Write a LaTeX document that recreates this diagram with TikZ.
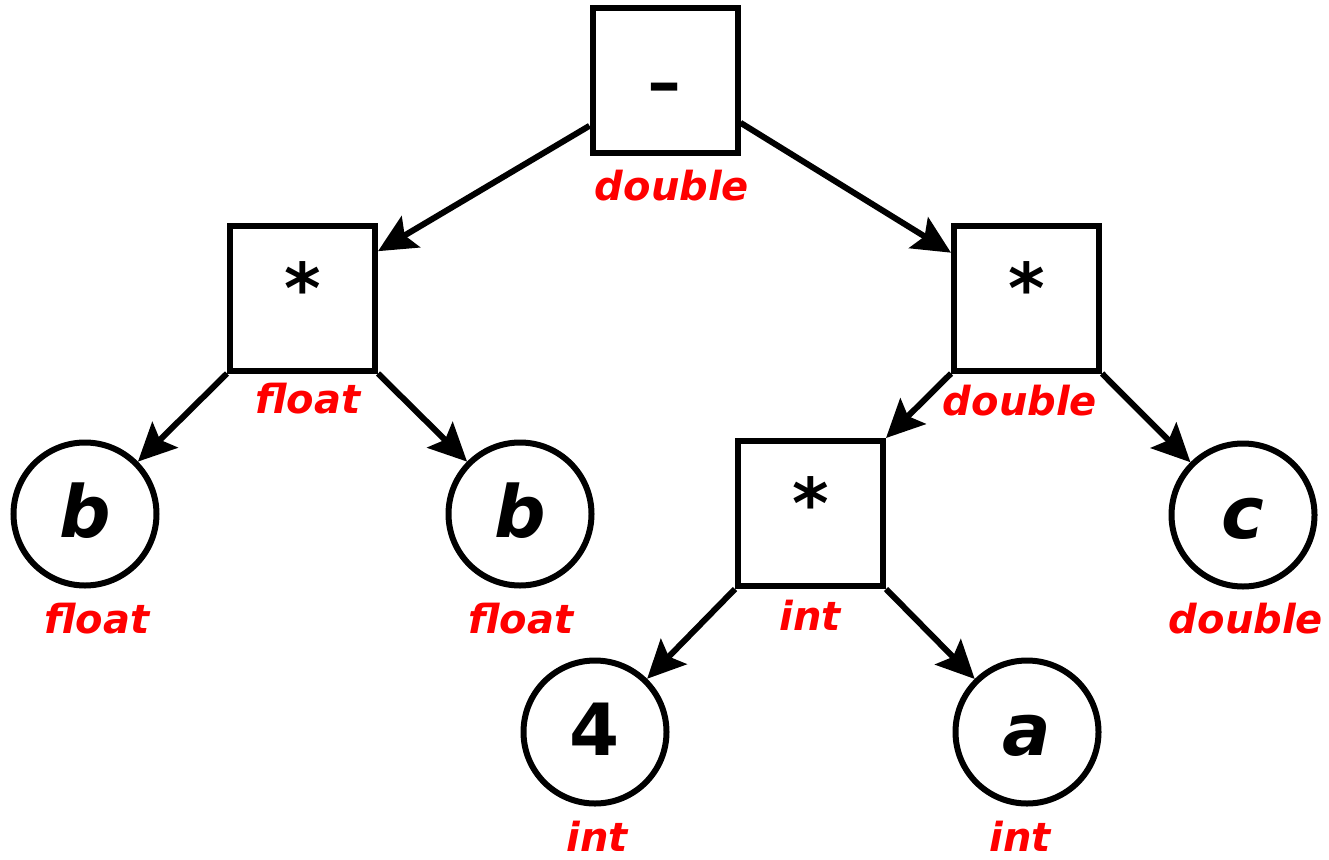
\documentclass[tikz,border=0pt]{standalone}
\usepackage{fontspec}
\setmainfont{DejaVu Sans}
\usetikzlibrary{arrows.meta,calc}
\tikzset{
  op/.style={draw, line width=6pt, minimum size=145pt, inner sep=0pt,
    text depth=10pt, text height=#1,
    font=\fontsize{70}{80}\selectfont\bfseries},
  leaf/.style={circle, draw, line width=6pt, minimum size=143pt, inner sep=0pt,
    text height=56pt, text depth=10pt,
    font=\fontsize{72}{82}\selectfont\bfseries\itshape},
  typ/.style={anchor=base, inner sep=0pt, text=red, text depth=0pt,
    font=\fontsize{40}{48}\selectfont\bfseries\itshape},
  edge/.style={line width=6pt, -{Stealth[length=38pt, width=36pt, inset=7pt]}}
}
\begin{document}
\begin{tikzpicture}[x=1pt, y=-1pt]
\useasboundingbox (0,0) rectangle (1329,859);

% operator boxes
\node[op=78pt, font=\fontsize{100}{110}\selectfont] (root) at (665,80.5) {-};
\node[op=40pt] (lb) at (302.5,298) {*};
\node[op=40pt] (rb) at (1026.5,298) {*};
\node[op=40pt] (mb) at (810.5,513.5) {*};

% operand circles
\node[leaf] (bl) at (85,514) {b};
\node[leaf] (br) at (520,514) {b};
\node[leaf] (cc) at (1243,515) {c};
\node[leaf, font=\fontsize{72}{82}\selectfont\bfseries] (c4) at (595,732) {4};
\node[leaf] (ca) at (1027,732) {a};

% type annotations
\node[typ] (troot) at (672,200) {double};
\node[typ] (tlb) at (308,413) {float};
\node[typ] (trb) at (1020,415) {double};
\node[typ] (tmb) at (810,630) {int};
\node[typ] (tbl) at (97,633) {float};
\node[typ] (tbr) at (521,633) {float};
\node[typ] (tcc) at (1246,633) {double};
\node[typ] (tc4) at (597,851) {int};
\node[typ] (tca) at (1020,851) {int};

% connectors
\draw[edge] ($(root.south west)!0.2!(root.north west)$) -- ($(lb.north east)!0.19!(lb.south east)$);
\draw[edge] ($(root.south east)!0.22!(root.north east)$) -- ($(rb.north west)!0.2!(rb.south west)$);
\draw[edge] (lb.south west) -- (bl);
\draw[edge] (lb.south east) -- (br);
\draw[edge] (rb.south west) -- (mb.north east);
\draw[edge] (rb.south east) -- (cc);
\draw[edge] (mb.south west) -- (c4);
\draw[edge] (mb.south east) -- (ca);
\end{tikzpicture}
\end{document}
